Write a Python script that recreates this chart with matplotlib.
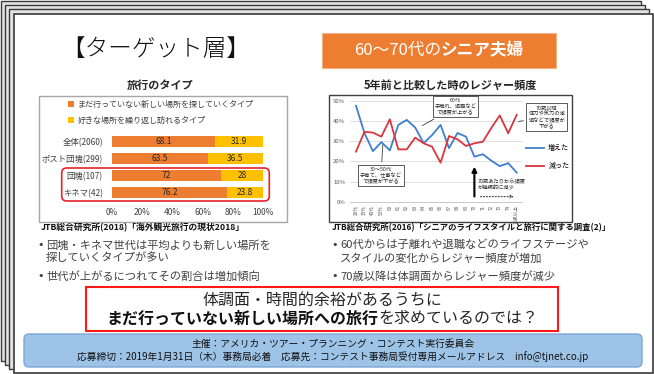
import matplotlib
matplotlib.use('Agg')
import matplotlib.pyplot as plt
from matplotlib.patches import Rectangle, FancyBboxPatch
import numpy as np

plt.rcParams['font.family'] = ['Noto Sans CJK JP', 'DejaVu Sans']

W, H = 654, 374

# ---------------- data ----------------
bar_categories = ['全体(2060)', 'ポスト団塊(299)', '団塊(107)', 'キネマ(42)']
new_places = [68.1, 63.5, 72, 76.2]
repeat_places = [31.9, 36.5, 28, 23.8]
bar_series = ['まだ行っていない新しい場所を探していくタイプ', '好きな場所を繰り返し訪れるタイプ']
bar_ticks = [0, 20, 40, 60, 80, 100]

age_labels = ['20代', '30代', '40代', '50代'] + [str(a) for a in range(60, 75)] + ['75歳以上']
increased = [47.5, 34, 25, 29.5, 25.4, 38, 40.5, 36.7, 29, 33, 38, 26.5, 34, 32.2, 22.3, 23.5, 20.3, 17.6, 19.1, 14.4]
decreased = [24.8, 34.6, 34.2, 32.2, 40.8, 25.9, 25.9, 31.7, 28.9, 27.2, 19.3, 32.5, 30.9, 27.6, 28.9, 29.7, 36.5, 42.7, 33.9, 43.0]
line_series = ['増えた', '減った']
line_ticks = [0, 10, 20, 30, 40, 50]

# ---------------- figure ----------------
fig = plt.figure(figsize=(W / 100, H / 100), dpi=100)
bg = fig.add_axes([0, 0, 1, 1])
bg.set_xlim(0, W)
bg.set_ylim(H, 0)
bg.axis('off')


def frac(x0, y0, x1, y1):
    return [x0 / W, 1 - y1 / H, (x1 - x0) / W, (y1 - y0) / H]


# stacked pages
for off in [1, 5, 9]:
    bg.add_patch(Rectangle((off, off), 640, 360, facecolor='#e3e3e3', edgecolor='#3a3a3a', lw=1))
bg.add_patch(Rectangle((13.5, 13.5), 639, 359, facecolor='white', edgecolor='#3a3a3a', lw=1.2))

# title
bg.text(156, 49, '【ターゲット層】', ha='center', va='center', fontsize=17, color='#111111', fontweight='light')

# orange box
bg.add_patch(Rectangle((322, 33), 234, 35, facecolor='#ED7D31', edgecolor='#f4b183', lw=0.8))

# frames of the charts
bg.add_patch(Rectangle((39, 96), 248, 126, facecolor='white', edgecolor='#a6a6a6', lw=1))
bg.add_patch(Rectangle((329, 95), 243, 127, facecolor='white', edgecolor='#404040', lw=1))

bg.text(160, 85, '旅行のタイプ', ha='center', va='center', fontsize=8, fontweight='bold', color='#262626')
bg.text(450, 85, '5年前と比較した時のレジャー頻度', ha='center', va='center', fontsize=8, fontweight='bold', color='#262626')

bg.text(41, 227.5, 'JTB総合研究所(2018)「海外観光旅行の現状2018」', ha='left', va='center', fontsize=6.3, fontweight='bold', color='#111111')
bg.text(332, 227.5, 'JTB総合研究所(2016)「シニアのライフスタイルと旅行に関する調査(2)」', ha='left', va='center', fontsize=6.0, fontweight='bold', color='#111111')

# ---------------- bar chart ----------------
axb = fig.add_axes(frac(112, 133.2, 263, 201.2))
axb.set_facecolor('none')
yb = np.arange(len(bar_categories))
b1 = axb.barh(yb, new_places, height=0.68, color='#ED7D31', label=bar_series[0])
b2 = axb.barh(yb, repeat_places, left=new_places, height=0.68, color='#FFC000', label=bar_series[1])
axb.set_xlim(0, 100)
axb.set_ylim(len(yb) - 0.5, -0.5)
axb.set_yticks(yb, bar_categories)
axb.set_xticks(bar_ticks, [f'{t}%' for t in bar_ticks])
axb.tick_params(length=0, labelsize=6, colors='#404040')
axb.tick_params(axis='y', pad=6.5)
axb.tick_params(axis='x', pad=5)
for s in axb.spines.values():
    s.set_visible(False)
for i in yb:
    axb.text(new_places[i] / 2, i, f'{new_places[i]:g}', ha='center', va='center', fontsize=6, color='#262626')
    axb.text(new_places[i] + repeat_places[i] / 2, i, f'{repeat_places[i]:g}', ha='center', va='center', fontsize=6, color='#262626')
fig.legend(handles=[b1, b2], loc='upper left', bbox_to_anchor=(68 / W, 1 - 100 / H), fontsize=5.8,
           frameon=False, handlelength=0.7, handleheight=0.7, handletextpad=0.5, labelspacing=0.85,
           borderaxespad=0, borderpad=0, labelcolor='#404040')
bg.add_patch(FancyBboxPatch((61.7, 168), 207.6, 33, boxstyle='round,pad=0,rounding_size=5',
                            facecolor='none', edgecolor='#E8202A', lw=1.2, zorder=5))

# ---------------- line chart ----------------
axl = fig.add_axes(frac(350, 100.7, 522, 201.7))
axl.set_facecolor('none')
xl = np.arange(len(age_labels))
axl.plot(xl, increased, color='#3F7FCF', lw=1.3, label=line_series[0])
axl.plot(xl, decreased, color='#D9363E', lw=1.3, label=line_series[1])
axl.set_ylim(0, 50)
axl.set_xlim(-0.71, 19.63)
axl.set_yticks(line_ticks, [f'{v}%' for v in line_ticks])
axl.set_xticks(xl, age_labels, rotation=90)
axl.grid(axis='y', color='#d9d9d9', lw=0.6)
axl.set_axisbelow(True)
for k in ['left', 'top', 'right']:
    axl.spines[k].set_visible(False)
axl.spines['bottom'].set_color('#bfbfbf')
axl.spines['bottom'].set_linewidth(0.6)
axl.tick_params(length=0, labelsize=4.3, colors='#595959')
axl.tick_params(axis='x', labelsize=3.3, pad=2.5)
axl.legend(loc='upper left', bbox_to_anchor=(526 / W, 1 - 144 / H), bbox_transform=fig.transFigure,
           fontsize=5, frameon=False, handlelength=2.6, labelspacing=1.5, handletextpad=0.6,
           borderaxespad=0, borderpad=0)

box = dict(boxstyle='square,pad=0.35', fc='white', ec='#404040', lw=0.6)
arr = dict(arrowstyle='-', color='#404040', lw=0.6)
axl.annotate('60代\n子離れ、退職など\nで頻度が上がる', xy=(7.56, 37), xytext=(11.75, 46.9), ha='center', va='center',
             fontsize=3.8, bbox=box, arrowprops=arr, annotation_clip=False, color='#262626')
axl.annotate('70歳以降\n体力や気力の減\n退などで頻度が\n下がる', xy=(18.9, 39.5), xytext=(22.55, 41.9), ha='center',
             va='center', fontsize=3.8, bbox=box, arrowprops=arr, annotation_clip=False, color='#262626')
axl.annotate('30～50代\n子育て、仕事など\nで頻度が下がる', xy=(3.19, 29.6), xytext=(2.95, 13), ha='center', va='center',
             fontsize=3.8, bbox=box, arrowprops=arr, annotation_clip=False, color='#262626')
axl.annotate('', xy=(14, 18.7), xytext=(14, 1.2),
             arrowprops=dict(arrowstyle='-|>', color='black', lw=1.5, mutation_scale=7))
axl.annotate('', xy=(19.0, 2.5), xytext=(14.4, 2.5),
             arrowprops=dict(arrowstyle='->', linestyle=':', color='#404040', lw=0.8, mutation_scale=5))
axl.text(14.4, 8.3, '70歳あたりから頻度\nが継続的に減少', fontsize=3.8, va='center', ha='left', color='#262626')

# ---------------- bullets ----------------
bullet_color = '#404040'
bul = [
    (37, 46, 245, '団塊・キネマ世代は平均よりも新しい場所を'),
    (None, 46, 258, '探していくタイプが多い'),
    (37, 46, 276, '世代が上がるにつれてその割合は増加傾向'),
    (331, 340, 245, '60代からは子離れや退職などのライフステージや'),
    (None, 340, 258, 'スタイルの変化からレジャー頻度が増加'),
    (331, 340, 276, '70歳以降は体調面からレジャー頻度が減少'),
]
for bx, tx, ty, s in bul:
    if bx is not None:
        bg.text(bx, ty, '•', ha='left', va='center', fontsize=8, color=bullet_color, family='DejaVu Sans')
    bg.text(tx, ty, s, ha='left', va='center', fontsize=8.1, color=bullet_color)

# ---------------- red conclusion box ----------------
bg.add_patch(Rectangle((86, 287), 472, 44, facecolor='white', edgecolor='#FF1A1A', lw=1.5))
bg.text(322, 300, '体調面・時間的余裕があるうちに', ha='center', va='center', fontsize=11.5, color='#262626')

# footer
bg.add_patch(FancyBboxPatch((24, 334), 618, 33, boxstyle='round,pad=0,rounding_size=5',
                            facecolor='#9DC3E6', edgecolor='#7EA6D6', lw=1))
bg.text(333, 344, '主催：アメリカ・ツアー・プランニング・コンテスト実行委員会', ha='center', va='center', fontsize=7, color='#111111')
bg.text(333, 357, '応募締切：2019年1月31日（木）事務局必着　応募先：コンテスト事務局受付専用メールアドレス　info@tjnet.co.jp',
        ha='center', va='center', fontsize=7, color='#111111')

# mixed weight lines
fig.canvas.draw()
renderer = fig.canvas.get_renderer()


def mixed(xc, yc, parts, fontsize):
    texts = []
    for s, w, c in parts:
        texts.append(bg.text(0, yc, s, fontsize=fontsize, fontweight=w, color=c, ha='left', va='center'))
    widths = [t.get_window_extent(renderer).width for t in texts]
    x = xc - sum(widths) / 2
    for t, wd in zip(texts, widths):
        t.set_x(x)
        x += wd


mixed(322, 318.5, [('まだ行っていない新しい場所への旅行', 'bold', '#111111'), ('を求めているのでは？', 'normal', '#262626')], 11.5)
mixed(439, 50.5, [('60～70代の', 'normal', 'white'), ('シニア夫婦', 'bold', 'white')], 12)

fig.savefig('out.png', dpi=100)
